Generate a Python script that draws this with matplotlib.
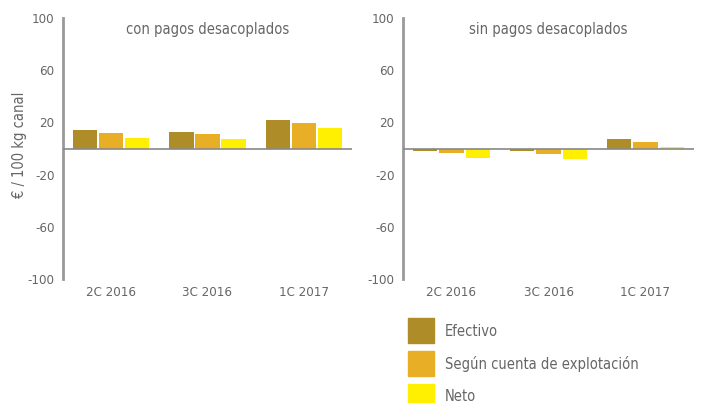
import matplotlib
matplotlib.use('Agg')
import matplotlib.pyplot as plt
import numpy as np
from matplotlib.patches import Rectangle

plt.rcParams['font.family'] = ['DejaVu Sans']
plt.rcParams['font.stretch'] = 'condensed'
plt.rcParams['axes.unicode_minus'] = False

categories = ['2C 2016', '3C 2016', '1C 2017']
series = ['Efectivo', 'Según cuenta de explotación', 'Neto']
colors = ['#AE8C28', '#E8AF26', '#FFEF00']

# valores (€ / 100 kg canal)
con_pagos = [[14.0, 12.5, 21.8],
             [11.8, 11.0, 19.5],
             [7.9, 7.0, 15.6]]
sin_pagos = [[-1.6, -2.2, 7.2],
             [-3.6, -4.4, 4.9],
             [-7.4, -8.2, 1.5]]

titles = ['con pagos desacoplados', 'sin pagos desacoplados']
yticks = [-100, -60, -20, 20, 60, 100]
txt = '#666666'

fig = plt.figure(figsize=(7.02, 4.03), dpi=100)
ax1 = fig.add_axes([63/702, 1-279/403, 289/702, 261/403])
ax2 = fig.add_axes([403/702, 1-279/403, 291/702, 261/403])

x = np.arange(len(categories))
w = 0.25
for ax, data, title in [(ax1, con_pagos, titles[0]), (ax2, sin_pagos, titles[1])]:
    for i, (vals, c) in enumerate(zip(data, colors)):
        ax.bar(x + (i - 1) * (w + 0.02), vals, w, color=c, zorder=2)
    ax.axhline(0, color='#888888', lw=1.2, zorder=3)
    ax.set_xlim(-0.5, 2.5)
    ax.set_ylim(-100, 100)
    ax.set_yticks(yticks)
    ax.set_xticks(x)
    ax.set_xticklabels(categories)
    ax.tick_params(length=0, labelsize=9.5, colors=txt, pad=5)
    ax.tick_params(axis='y', pad=6)
    for s in ['top', 'right', 'bottom']:
        ax.spines[s].set_visible(False)
    ax.spines['left'].set_color('#999999')
    ax.spines['left'].set_linewidth(2)
    ax.text(0.5, 0.985, title, transform=ax.transAxes, ha='center', va='top',
            fontsize=10.5, color=txt)

fig.text(20/702, 1-145/403, '€ / 100 kg canal', rotation=90, fontsize=10.5,
         color=txt, ha='center', va='center')

# leyenda
for i, (name, c) in enumerate(zip(series, colors)):
    y0 = 1 - (343 + i * 33) / 403
    fig.patches.append(Rectangle((408/702, y0), 26/702, 25/403, color=c,
                                 transform=fig.transFigure, figure=fig))
    fig.text(445/702, y0 + 12/403, name, fontsize=10.5, color=txt, va='center')

fig.savefig('out.png', dpi=100)
